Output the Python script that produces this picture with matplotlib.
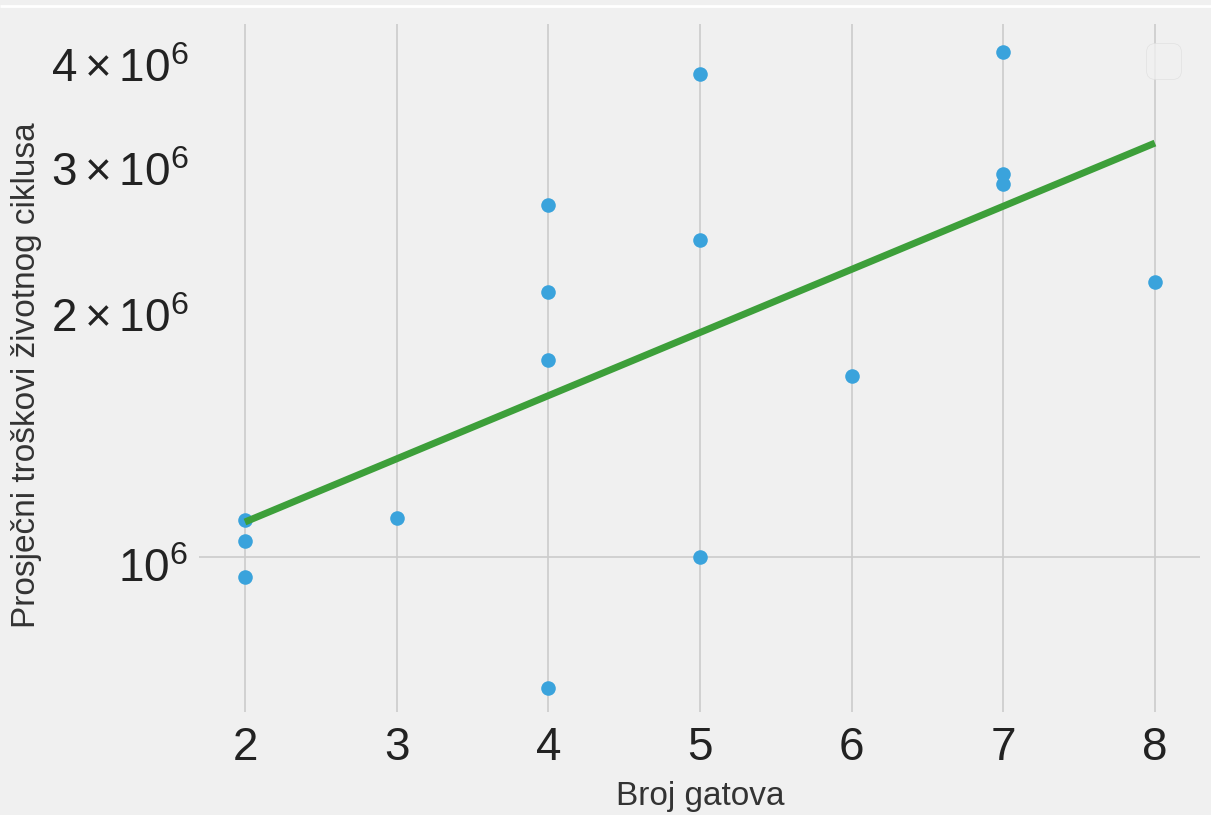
import matplotlib
matplotlib.use('agg')
from matplotlib import pyplot as plt
from matplotlib.lines import Line2D
from matplotlib.transforms import ScaledTranslation

# data
numCats = [2, 2, 2, 3, 4, 4, 4, 4, 5, 5, 5, 6, 7, 7, 7, 8]
avgCost = [1.108e6, 1.045e6, 0.946e6, 1.114e6,
           2.652e6, 2.084e6, 1.726e6, 0.696e6,
           3.813e6, 2.407e6, 1.0e6,
           1.651e6,
           4.053e6, 2.890e6, 2.811e6,
           2.142e6]

# fitted trend (straight on log axis)
fitX = [2, 8]
fitY = [1.102e6, 3.149e6]


def main():
    plt.style.use('fivethirtyeight')
    plt.rcParams['font.family'] = ['Liberation Sans', 'DejaVu Sans']
    plt.rcParams['mathtext.fontset'] = 'custom'
    plt.rcParams['mathtext.rm'] = 'Liberation Sans'
    plt.rcParams['mathtext.it'] = 'Liberation Sans:italic'

    fig = plt.figure(figsize=(12.11, 8.15), dpi=100)
    fig.patch.set_facecolor('#f0f0f0')
    ax = fig.add_axes([0.1647, 0.1264, 0.8266, 0.8442])
    ax.set_facecolor('#f0f0f0')

    ax.scatter(numCats, avgCost, s=110, color='#3aa3dc', zorder=3, linewidths=0)
    ax.plot(fitX, fitY, color='#3d9f3a', linewidth=5, zorder=4)

    ax.set_yscale('log')
    ax.set_xlim(1.7, 8.3)
    ax.set_ylim(0.651e6, 4.38e6)

    ax.grid(True, which='major', color='#cbcbcb', linewidth=1.2)
    ax.grid(False, which='minor')
    for s in ax.spines.values():
        s.set_visible(False)

    ax.tick_params(axis='both', which='both', labelsize=33, length=0,
                   colors='#222222')
    ax.tick_params(axis='x', pad=10)
    ax.tick_params(axis='y', which='both', pad=8)

    ax.set_xlabel("Broj gatova", fontsize=24, color='#333333', labelpad=8)
    ax.set_ylabel("Prosječni troškovi životnog ciklusa", fontsize=24,
                  color='#333333')
    ax.yaxis.set_label_coords(-0.157, 0.49)

    leg = ax.legend(handles=[], loc='upper right', fontsize=32,
                    borderaxespad=0.43)
    leg.get_frame().set_edgecolor('#dedede')
    leg.get_frame().set_facecolor('#f0f0f0')

    # y tick labels sit a little below their ticks in the reference
    fig.canvas.draw()
    shift = ScaledTranslation(0, -6 / 72, fig.dpi_scale_trans)
    for lab in ax.yaxis.get_majorticklabels() + ax.yaxis.get_minorticklabels():
        lab.set_transform(lab.get_transform() + shift)

    # thin white strip at the top (screenshot edge)
    fig.add_artist(Line2D([0, 1], [1 - 6 / 815, 1 - 6 / 815],
                          transform=fig.transFigure, color='white',
                          linewidth=2))

    fig.savefig('out.png', dpi=100, facecolor='#f0f0f0')


if (__name__ == "__main__"):
    main()
